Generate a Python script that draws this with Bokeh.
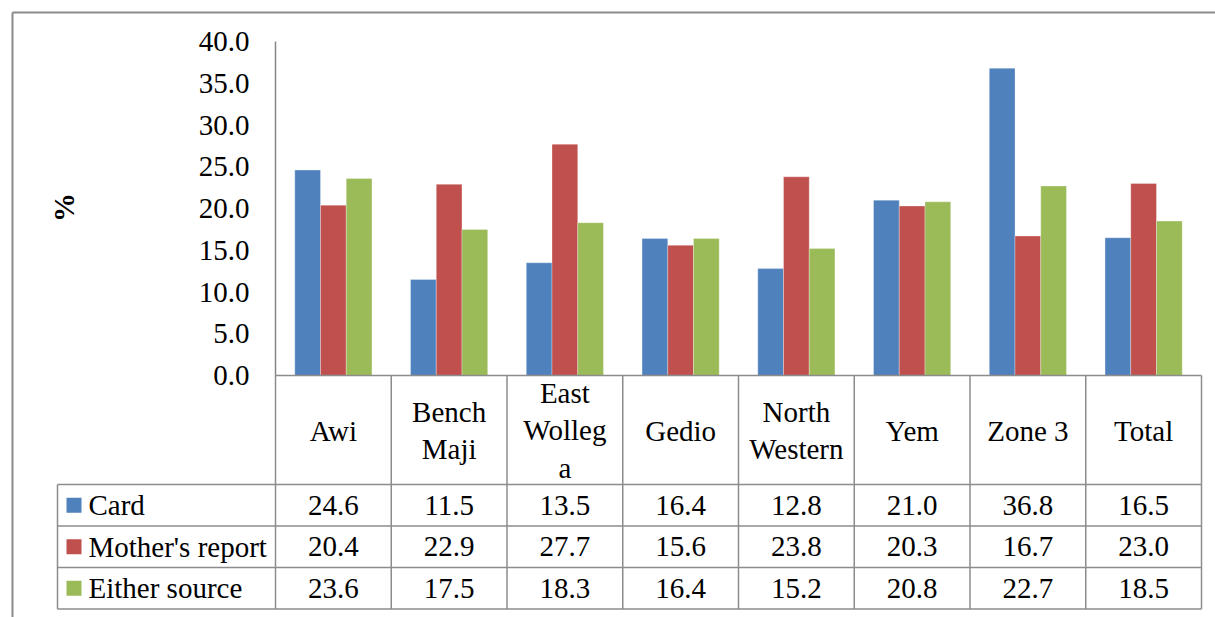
import numpy as np
from bokeh.plotting import figure
from bokeh.models import Range1d, LinearAxis, FixedTicker
from bokeh.core.properties import value
from bokeh.embed import file_html
from bokeh.resources import INLINE

# ---- data ----
categories = ["Awi", "Bench\nMaji", "East\nWolleg\na", "Gedio", "North\nWestern", "Yem", "Zone 3", "Total"]
series_names = ["Card", "Mother's report", "Either source"]
card = [24.6, 11.5, 13.5, 16.4, 12.8, 21.0, 36.8, 16.5]
mother = [20.4, 22.9, 27.7, 15.6, 23.8, 20.3, 16.7, 23.0]
either = [23.6, 17.5, 18.3, 16.4, 15.2, 20.8, 22.7, 18.5]
y_ticks = [0, 5, 10, 15, 20, 25, 30, 35, 40]
y_tick_labels = ["0.0", "5.0", "10.0", "15.0", "20.0", "25.0", "30.0", "35.0", "40.0"]
colors = ["#4F81BD", "#C0504D", "#9BBB59"]

# ---- geometry (page pixels -> data units) ----
PAGE = 0
W, H = 1215, 617
X0, XS = 275.0, 115.75   # px of x=0, px per category
Y0, YS = 375.0, 8.35     # px of y=0, px per unit


def dx(px):
    return (px - X0) / XS


def dy(py):
    return (Y0 - py) / YS


FONT_NAME = "Liberation Serif"
FONT = value(FONT_NAME)
FS = "29px"
GRID = "#8C8C8C"

p = figure(width=W, height=H, output_backend="svg", toolbar_location=None,
           x_range=Range1d(dx(PAGE), dx(PAGE + W)), y_range=Range1d(dy(PAGE + H), dy(PAGE)),
           min_border=0, x_axis_type=None, y_axis_type=None)
p.outline_line_color = None
p.xgrid.visible = False
p.ygrid.visible = False
p.background_fill_color = "white"
p.border_fill_color = "white"

n = len(categories)
centers = np.arange(n) + 0.5
bw = 1 / 4.5
for k, (vals, col) in enumerate(zip([card, mother, either], colors)):
    p.vbar(x=centers + (k - 1) * bw, top=vals, bottom=0, width=bw,
           fill_color=col, line_color="white", line_alpha=0.3, line_width=1)

# y axis at x = 0
yax = LinearAxis(fixed_location=0, bounds=(0, 40), ticker=FixedTicker(ticks=y_ticks),
                 major_label_overrides={t: s for t, s in zip(y_ticks, y_tick_labels)})
yax.major_tick_in = 0
yax.major_tick_out = 0
yax.minor_tick_in = 0
yax.minor_tick_out = 0
yax.major_label_standoff = 26
yax.major_label_text_font = FONT_NAME
yax.major_label_text_font_size = FS
yax.major_label_text_color = "black"
yax.axis_line_color = "#868686"
yax.axis_line_width = 1.5
p.add_layout(yax, "left")

# "%" axis title
p.text(x=[dx(63)], y=[dy(207)], text=["%"], angle=np.pi / 2, text_font=FONT,
       text_font_size=FS, text_font_style="bold", text_align="center",
       text_baseline="middle", text_color="black")

# outer border (left & top)
p.segment(x0=[dx(12), dx(12)], y0=[dy(12), dy(12)], x1=[dx(12), dx(1216)], y1=[dy(618), dy(12)],
          line_color="#8A8A8A", line_width=2)

# table grid
row_px = [484, 525.5, 567, 608.5]
left_px = 57
x0s, y0s, x1s, y1s = [], [], [], []
x0s.append(0); y0s.append(0); x1s.append(n); y1s.append(0)
for r in row_px:
    x0s.append(dx(left_px)); y0s.append(dy(r)); x1s.append(n); y1s.append(dy(r))
x0s.append(dx(left_px)); y0s.append(dy(row_px[0])); x1s.append(dx(left_px)); y1s.append(dy(row_px[-1]))
x0s.append(0); y0s.append(0); x1s.append(0); y1s.append(dy(row_px[-1]))
for i in range(1, n + 1):
    x0s.append(i); y0s.append(0); x1s.append(i); y1s.append(dy(row_px[-1]))
p.segment(x0=x0s, y0=y0s, x1=x1s, y1=y1s, line_color=GRID, line_width=1.5)

# category header labels
p.text(x=centers, y=[dy(430)] * n, text=categories, text_font=FONT, text_font_size=FS,
       text_align="center", text_baseline="middle", text_color="black", text_line_height=1.17)

# table rows
for k, (name, vals, col) in enumerate(zip(series_names, [card, mother, either], colors)):
    cy = dy((row_px[k] + row_px[k + 1]) / 2)
    p.rect(x=[dx(73.5)], y=[cy], width=15, height=15, width_units="screen",
           height_units="screen", fill_color=col, line_color=None)
    p.text(x=[dx(88)], y=[cy], text=[name], text_font=FONT, text_font_size=FS,
           text_align="left", text_baseline="middle", text_color="black")
    p.text(x=centers, y=[cy] * n, text=["%.1f" % v for v in vals], text_font=FONT,
           text_font_size=FS, text_align="center", text_baseline="middle", text_color="black")

open("out.html", "w").write(file_html(p, INLINE))
